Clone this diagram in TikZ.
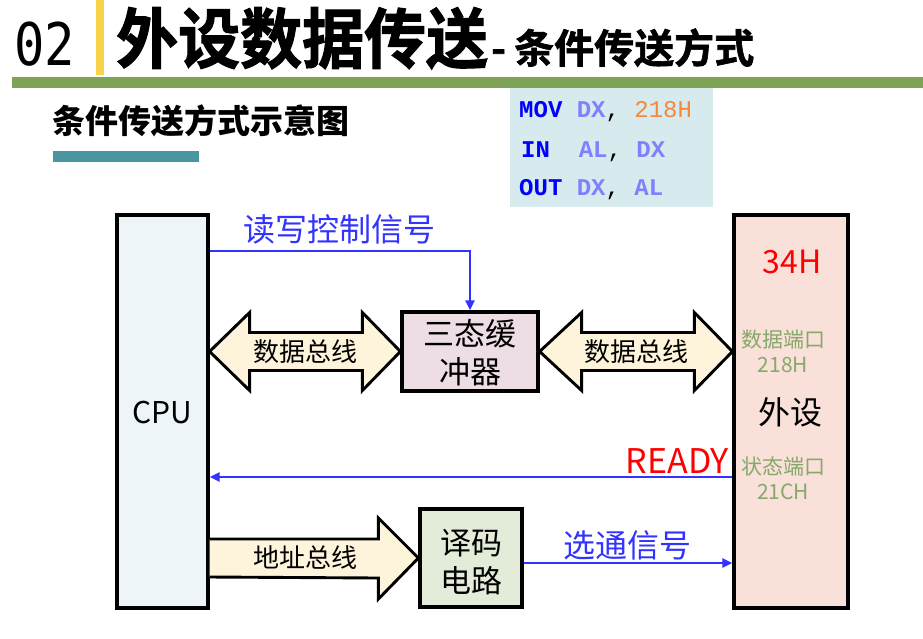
\documentclass[tikz,border=0pt]{standalone}
\usepackage{fontspec}
\setmainfont{Noto Sans CJK SC}
\newfontfamily\heavyfont{Noto Sans CJK SC}[UprightFont=* Bold, FakeBold=1.6]
\newfontfamily\codefont{Liberation Mono}
\newfontfamily\numfont{DejaVu Sans Mono}
\usetikzlibrary{arrows.meta,calc}
\definecolor{yellowbar}{HTML}{F9D44A}
\definecolor{greenbar}{HTML}{7EA256}
\definecolor{tealbar}{HTML}{4A96A0}
\definecolor{codebg}{HTML}{D7EAEE}
\definecolor{cpufill}{HTML}{EEF5F8}
\definecolor{devfill}{HTML}{F9E0D8}
\definecolor{buffill}{HTML}{EDDDE5}
\definecolor{decfill}{HTML}{E3EBD9}
\definecolor{busfill}{HTML}{FEF4DB}
\definecolor{sigblue}{HTML}{3333FF}
\definecolor{portgreen}{HTML}{86A86A}
\definecolor{codeblue}{HTML}{0000FF}
\definecolor{codereg}{HTML}{8080FF}
\definecolor{codeimm}{HTML}{F5883B}
\tikzset{
  blockbox/.style={draw=black, line width=3.2pt, inner sep=0pt},
  busarrow/.style={draw=black, line width=2.9pt, fill=busfill, line join=miter},
  sigline/.style={draw=sigblue, line width=2.9pt, -{Triangle[length=10pt,width=9pt]}},
  buslabel/.style={font=\fontsize{26}{28}\selectfont, inner sep=0pt},
  boxtext/.style={font=\fontsize{31}{38}\selectfont, align=center, inner sep=0pt},
  porttext/.style={font=\fontsize{21}{25}\selectfont, align=center, text=portgreen, inner sep=0pt},
  codeline/.style={font=\codefont\fontsize{24}{26}\selectfont, anchor=base west, inner sep=0pt},
  sigtext/.style={font=\fontsize{32}{34}\selectfont, inner sep=0pt}
}
\begin{document}
\begin{tikzpicture}[x=1pt,y=-1pt]
\useasboundingbox (0,0) rectangle (923,638);

% header
\fill[yellowbar] (96,0) rectangle (104,75);
\fill[greenbar] (12,77) rectangle (923,88);
\node[anchor=base west, inner sep=0pt, font=\numfont\fontsize{56}{56}\selectfont, xscale=0.9, yscale=1.05] (num) at (14,65) {02};
\node[anchor=base west, inner sep=0pt, yscale=1.06, font=\heavyfont\fontsize{62}{62}\selectfont] (title) at (116,63) {外设数据传送};
\node[anchor=base west, inner sep=0pt, font=\heavyfont\fontsize{40}{40}\selectfont] (dash) at (491,63) {-};
\node[anchor=base west, inner sep=0pt, font=\heavyfont\fontsize{40}{40}\selectfont] (subtitle) at (514,63) {条件传送方式};

% subheading
\node[anchor=base west, inner sep=0pt, font=\fontsize{33}{33}\selectfont\bfseries] (sub) at (52,133) {条件传送方式示意图};
\fill[tealbar] (53,151) rectangle (199,162);

% code box
\fill[codebg] (510,88) rectangle (713,207);
\node[codeline] (c1) at (519,117) {\textbf{\color{codeblue}MOV} \textbf{\color{codereg}DX}, {\color{codeimm}218H}};
\node[codeline] (c2) at (521,157) {\textbf{\color{codeblue}IN}\ \ \textbf{\color{codereg}AL}, \textbf{\color{codereg}DX}};
\node[codeline] (c3) at (519,195) {\textbf{\color{codeblue}OUT} \textbf{\color{codereg}DX}, \textbf{\color{codereg}AL}};

% blocks
\node[blockbox, fill=cpufill, minimum width=91pt, minimum height=393pt] (cpu) at (162.5,411.5) {};
\node[blockbox, fill=devfill, minimum width=114pt, minimum height=393pt] (dev) at (791,411.5) {};
\node[blockbox, fill=buffill, minimum width=136pt, minimum height=79pt] (buf) at (470,351.5) {};
\node[blockbox, fill=decfill, minimum width=102pt, minimum height=98pt] (dec) at (471,558) {};

\node[font=\fontsize{30}{30}\selectfont, inner sep=0pt] (cputxt) at (162.5,412) {CPU};
\node[boxtext] (buftxt) at (470,353) {三态缓\\冲器};
\node[boxtext] (dectxt) at (471,562) {译码\\电路};

\node[font=\fontsize{32}{32}\selectfont, text=red, inner sep=0pt] (h34) at (792,262) {34H};
\node[porttext] (dport) at (783,351) {数据端口\\218H};
\node[font=\fontsize{32}{32}\selectfont, inner sep=0pt] (devtxt) at (790,412) {外设};
\node[porttext] (sport) at (783,478) {状态端口\\21CH};

% data bus left (double arrow)
\coordinate (l1) at (cpu.east |- buf.west);
\draw[busarrow] (l1) -- ++(40,-39) -- ++(0,20) -- ($(buf.west)+(-38,-19)$) -- ++(0,-20)
  -- (buf.west) -- ++(-38,39) -- ++(0,-20) -- ($(l1)+(40,19)$) -- ++(0,20) -- cycle;
\node[buslabel] (db1) at ($(l1)!0.5!(buf.west)$) {数据总线};

% data bus right (double arrow)
\coordinate (r2) at (dev.west |- buf.east);
\draw[busarrow] (buf.east) -- ++(42,-39) -- ++(0,20) -- ($(r2)+(-38,-19)$) -- ++(0,-20)
  -- (r2) -- ++(-38,39) -- ++(0,-20) -- ($(buf.east)+(42,19)$) -- ++(0,20) -- cycle;
\node[buslabel] (db2) at ($(buf.east)!0.5!(r2)$) {数据总线};

% address bus (single arrow)
\coordinate (a1) at (cpu.east |- dec.west);
\draw[busarrow] ($(a1)+(0,-19)$) -- ($(dec.west)+(-40,-19)$) -- ++(0,-21) -- (dec.west)
  -- ++(-40,41) -- ++(0,-21) -- ($(a1)+(0,19)$);
\node[buslabel] (ab) at ($(a1)!0.46!(dec.west)$) {地址总线};

% control signals
\coordinate (rwy) at (0,251);
\draw[sigline] (cpu.east |- rwy) -| (buf.north);
\node[sigtext, text=sigblue] (rwtxt) at (339,229) {读写控制信号};

\coordinate (rdy) at (0,477);
\draw[sigline] (dev.west |- rdy) -- (cpu.east |- rdy);
\node[sigtext, text=red, anchor=east, font=\fontsize{34}{34}\selectfont] (readytxt) at (729,461) {READY};

\coordinate (stb) at (0,563);
\draw[sigline] (dec.east |- stb) -- (dev.west |- stb);
\node[sigtext, text=sigblue] (stbtxt) at (627,545) {选通信号};
\end{tikzpicture}
\end{document}
